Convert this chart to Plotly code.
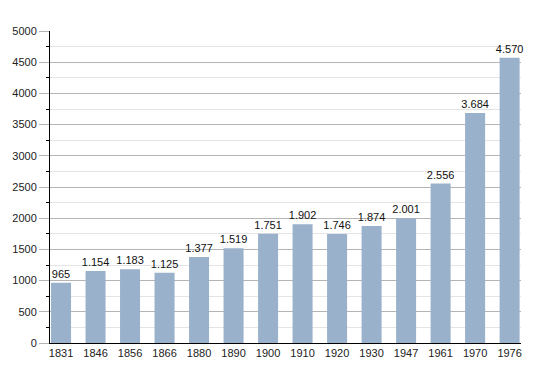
import plotly.graph_objects as go

years = ["1831", "1846", "1856", "1866", "1880", "1890", "1900", "1910", "1920", "1930", "1947", "1961", "1970", "1976"]
population = [965, 1154, 1183, 1125, 1377, 1519, 1751, 1902, 1746, 1874, 2001, 2556, 3684, 4570]

labels = [f"{v:,}".replace(",", ".") for v in population]
xs = list(range(len(years)))

fig = go.Figure(go.Bar(
    x=xs, y=population, width=0.58,
    marker=dict(color="#9ab1cb", line=dict(width=0)),
    text=labels, textposition="outside", cliponaxis=False,
    textfont=dict(family="Liberation Sans, Arial, sans-serif", size=11, color="#111"),
))

fig.update_layout(
    width=550, height=373,
    margin=dict(l=42, r=37, t=23, b=38),
    paper_bgcolor="white", plot_bgcolor="white",
    showlegend=False,
    font=dict(family="Liberation Sans, Arial, sans-serif", size=11, color="#222"),
    uniformtext=dict(minsize=11, mode="show"),
)
fig.update_xaxes(
    tickmode="array", tickvals=xs, ticktext=years,
    range=[-0.32, 13.33], showgrid=False, zeroline=False,
    showline=True, linecolor="#000", linewidth=1, ticks="",
    tickfont=dict(size=11, color="#222"), automargin=False,
)
fig.update_yaxes(
    range=[0, 5000], dtick=500, showgrid=True, gridcolor="#b4b4b4", gridwidth=1,
    zeroline=False, showline=True, linecolor="#000", linewidth=1,
    ticks="outside", ticklen=10, tickcolor="#b4b4b4",
    tickfont=dict(size=11, color="#222"), automargin=False,
    minor=dict(dtick=250, showgrid=True, gridcolor="#e4e4e4", ticks="outside", ticklen=3, tickcolor="#000"),
)

fig.write_html("out.html")
